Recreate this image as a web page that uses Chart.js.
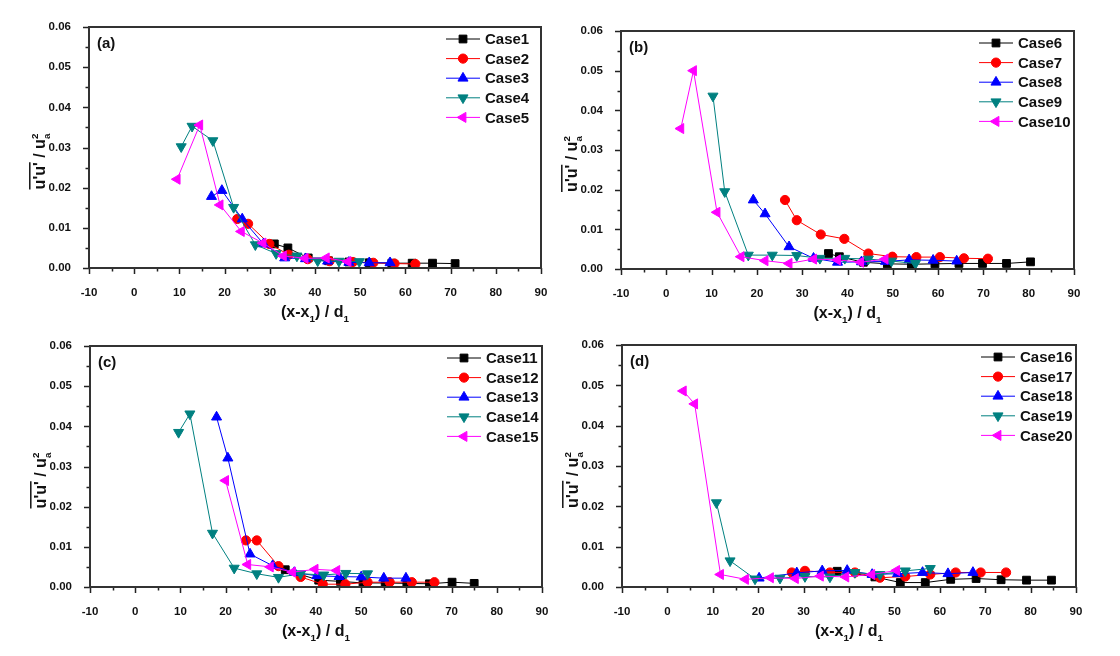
<!DOCTYPE html>
<html>
<head>
<meta charset="utf-8">
<script src="https://cdn.jsdelivr.net/npm/chart.js@4.4.1/dist/chart.umd.min.js"></script>
<style>
  body { margin: 0; background: #fff; width: 1120px; height: 656px; position: relative; overflow: hidden; }
  canvas { position: absolute; }
</style>
</head>
<body>
<canvas id="pa"></canvas>
<canvas id="pb"></canvas>
<canvas id="pc"></canvas>
<canvas id="pd"></canvas>
<script>
// 데이터
const namesA = ['Case1', 'Case2', 'Case3', 'Case4', 'Case5'];
const namesB = ['Case6', 'Case7', 'Case8', 'Case9', 'Case10'];
const namesC = ['Case11', 'Case12', 'Case13', 'Case14', 'Case15'];
const namesD = ['Case16', 'Case17', 'Case18', 'Case19', 'Case20'];

const aX = [
    [31, 34, 38.5, 43, 47.5, 52, 57, 61.5, 66, 71],
    [22.8, 25.2, 29.9, 34.2, 38.4, 43.2, 48.4, 52.9, 57.6, 62.2],
    [17.1, 19.4, 23.9, 28.6, 33.3, 37.9, 42.8, 47.5, 52.0, 56.6],
    [10.4, 12.8, 17.4, 22.0, 26.8, 31.4, 36.0, 40.6, 45.3, 49.8],
    [9.5, 14.5, 19.0, 23.7, 28.5, 33.0, 37.8, 42.5, 47.3],
];
const aY = [
    [0.006, 0.005, 0.0025, 0.0018, 0.0015, 0.0013, 0.0012, 0.0012, 0.0012, 0.0011],
    [0.0122, 0.011, 0.006, 0.0033, 0.0022, 0.0017, 0.0015, 0.0013, 0.0011, 0.0010],
    [0.0178, 0.0193, 0.0122, 0.006, 0.0025, 0.0023, 0.0017, 0.0014, 0.0013, 0.0013],
    [0.0302, 0.0353, 0.0317, 0.0151, 0.0058, 0.0036, 0.003, 0.0018, 0.0017, 0.0016],
    [0.0221, 0.0356, 0.0157, 0.0091, 0.0062, 0.003, 0.0024, 0.0025, 0.0016],
];

const bX = [
    [35.8, 38.2, 43.5, 48.8, 54.1, 59.3, 64.6, 69.8, 75.1, 80.4],
    [26.2, 28.8, 34.1, 39.3, 44.6, 49.9, 55.2, 60.4, 65.7, 71.0],
    [19.2, 21.8, 27.1, 32.5, 37.8, 43.1, 48.4, 53.6, 58.9, 64.1],
    [10.3, 12.9, 18.1, 23.4, 28.8, 33.9, 39.4, 44.6, 49.7, 55.0],
    [3.2, 6.0, 11.2, 16.5, 21.8, 27.1, 32.5, 37.8, 42.9, 48.3],
];
const bY = [
    [0.0039, 0.0031, 0.0017, 0.0013, 0.0012, 0.0013, 0.0014, 0.0014, 0.0014, 0.0018],
    [0.0174, 0.0123, 0.0087, 0.0076, 0.0039, 0.0031, 0.0030, 0.0030, 0.0027, 0.0026],
    [0.0174, 0.0139, 0.0056, 0.0027, 0.0017, 0.0018, 0.0019, 0.0023, 0.0022, 0.0020],
    [0.0436, 0.0195, 0.0035, 0.0035, 0.0034, 0.0027, 0.0027, 0.0025, 0.0020, 0.0014],
    [0.0354, 0.0500, 0.0143, 0.0031, 0.0021, 0.0014, 0.0025, 0.0023, 0.0017, 0.0025],
];

const cX = [
    [33.2, 40.6, 45.4, 50.4, 55.3, 60.1, 65.1, 70.1, 75.0],
    [24.5, 26.9, 31.7, 36.6, 41.5, 46.5, 51.4, 56.3, 61.2, 66.2],
    [18.0, 20.5, 25.4, 30.4, 35.2, 40.2, 45.1, 50.0, 55.0, 59.9],
    [9.6, 12.1, 17.1, 21.9, 26.9, 31.7, 36.6, 41.7, 46.6, 51.4],
    [20.0, 24.9, 29.9, 34.8, 39.8, 44.6],
];
const cY = [
    [0.0043, 0.0017, 0.0014, 0.001, 0.001, 0.0009, 0.0008, 0.0012, 0.0009],
    [0.0116, 0.0116, 0.0052, 0.0025, 0.0007, 0.0007, 0.0012, 0.0012, 0.0012, 0.0012],
    [0.0423, 0.0321, 0.0082, 0.0053, 0.0036, 0.0028, 0.0026, 0.0025, 0.0022, 0.0022],
    [0.0385, 0.0431, 0.0134, 0.0047, 0.0033, 0.0024, 0.0033, 0.003, 0.0034, 0.0033],
    [0.0265, 0.0056, 0.005, 0.0037, 0.0044, 0.0041],
];

const dX = [
    [37.4, 45.7, 51.3, 56.8, 62.4, 68.0, 73.5, 79.1, 84.6],
    [27.4, 30.3, 35.8, 41.3, 46.8, 52.4, 57.9, 63.5, 69.0, 74.6],
    [20.2, 28.5, 34.1, 39.6, 45.1, 50.7, 56.2, 61.8, 67.3],
    [10.8, 13.8, 19.3, 24.8, 30.3, 35.8, 41.3, 46.8, 52.4, 57.9],
    [3.5, 6.0, 11.7, 17.2, 22.7, 28.2, 33.7, 39.3, 45.0, 50.5],
];
const dY = [
    [0.0039, 0.0025, 0.0011, 0.0011, 0.0019, 0.0021, 0.0018, 0.0017, 0.0017],
    [0.0036, 0.004, 0.0036, 0.0036, 0.0023, 0.0026, 0.0031, 0.0036, 0.0036, 0.0036],
    [0.0022, 0.0035, 0.004, 0.0041, 0.0031, 0.0033, 0.0036, 0.0033, 0.0036],
    [0.0209, 0.0065, 0.002, 0.0022, 0.0026, 0.0025, 0.0036, 0.0031, 0.004, 0.0046],
    [0.0486, 0.0454, 0.0031, 0.0019, 0.0023, 0.0021, 0.0027, 0.0025, 0.0031, 0.0041],
];

const xTicks = [-10, -5, 0, 5, 10, 15, 20, 25, 30, 35, 40, 45, 50, 55, 60, 65, 70, 75, 80, 85, 90];
const yTicks = [0, 0.005, 0.01, 0.015, 0.02, 0.025, 0.03, 0.035, 0.04, 0.045, 0.05, 0.055, 0.06];

// 스타일
const colors = ['#000000', '#ff0000', '#0000ff', '#008080', '#ff00ff'];
const styles = ['rect', 'circle', 'triangle', 'triangle', 'triangle'];
const rotations = [0, 0, 0, 180, 270];
const radii = [5.5, 4.6, 5.8, 5.8, 5.8];
const FONT = "'Liberation Sans', Arial, sans-serif";

// 패널 위치 (캔버스, 플롯 영역)
const panels = [
    { id: 'pa', tag: '(a)', names: namesA, xs: aX, ys: aY, cv: { x: 0, y: 0, w: 560, h: 325 }, area: { l: 89, t: 27, r: 541, b: 268 } },
    { id: 'pb', tag: '(b)', names: namesB, xs: bX, ys: bY, cv: { x: 560, y: 0, w: 560, h: 325 }, area: { l: 621, t: 31, r: 1074, b: 269 } },
    { id: 'pc', tag: '(c)', names: namesC, xs: cX, ys: cY, cv: { x: 0, y: 325, w: 560, h: 331 }, area: { l: 90, t: 346, r: 542, b: 587 } },
    { id: 'pd', tag: '(d)', names: namesD, xs: dX, ys: dY, cv: { x: 560, y: 325, w: 560, h: 331 }, area: { l: 622, t: 345, r: 1076, b: 587 } },
];

// 텍스트 조각 그리기 (아래첨자/위첨자)
function drawPieces(ctx, pieces, size) {
    let total = 0;
    pieces.forEach(p => {
        ctx.font = `bold ${p.small ? size * 0.62 : size}px ${FONT}`;
        p.w = ctx.measureText(p.t).width;
        if (!p.stack) total += p.w;
    });
    let x = -total / 2;
    let lastX = x;
    pieces.forEach(p => {
        ctx.font = `bold ${p.small ? size * 0.62 : size}px ${FONT}`;
        const px = p.stack ? lastX : x;
        let dy = 0;
        if (p.sub) dy = size * 0.3;
        if (p.sup) dy = -size * 0.45;
        ctx.fillText(p.t, px, dy);
        if (p.over) {
            ctx.lineWidth = 1.5;
            ctx.beginPath();
            ctx.moveTo(px, -size * 0.95);
            ctx.lineTo(px + p.w, -size * 0.95);
            ctx.stroke();
        }
        lastX = px;
        if (!p.stack) x += p.w;
    });
}

const decoPlugin = {
    id: 'deco',
    afterDraw(chart, args, opts) {
        const { ctx, chartArea: a } = chart;
        const sx = chart.scales.x, sy = chart.scales.y;
        ctx.save();
        // 눈금
        ctx.strokeStyle = '#222';
        ctx.lineWidth = 1.5;
        ctx.beginPath();
        xTicks.forEach(v => {
            const px = Math.round(sx.getPixelForValue(v)) + 0.5;
            const len = v % 10 === 0 ? 6 : 3.5;
            ctx.moveTo(px, a.bottom);
            ctx.lineTo(px, a.bottom + len);
        });
        yTicks.forEach((v, k) => {
            const py = Math.round(sy.getPixelForValue(v)) + 0.5;
            const len = k % 2 === 0 ? 6 : 3.5;
            ctx.moveTo(a.left, py);
            ctx.lineTo(a.left - len, py);
        });
        ctx.stroke();
        // 테두리
        ctx.strokeStyle = '#333';
        ctx.lineWidth = 2;
        ctx.strokeRect(a.left, a.top, a.right - a.left, a.bottom - a.top);

        ctx.fillStyle = '#111';
        ctx.strokeStyle = '#111';
        ctx.textBaseline = 'alphabetic';
        ctx.textAlign = 'left';

        // x축 제목
        ctx.save();
        ctx.translate((a.left + a.right) / 2, a.bottom + 49);
        drawPieces(ctx, [
            { t: '(x-x' }, { t: '1', small: true, sub: true }, { t: ') / d' }, { t: '1', small: true, sub: true },
        ], 16);
        ctx.restore();

        // y축 제목
        ctx.save();
        ctx.translate(a.left - 44, (a.top + a.bottom) / 2 + 14);
        ctx.rotate(-Math.PI / 2);
        drawPieces(ctx, [
            { t: "u'u'", over: true }, { t: ' / u' }, { t: 'a', small: true, sub: true }, { t: '2', small: true, sup: true, stack: true },
        ], 16);
        ctx.restore();

        // 패널 라벨
        ctx.font = `bold 15px ${FONT}`;
        ctx.textBaseline = 'middle';
        ctx.fillText(opts.tag, a.left + 8, a.top + 17);

        // 범례
        ctx.font = `bold 15px ${FONT}`;
        chart.data.datasets.forEach((ds, i) => {
            const y = a.top + 12 + i * 19.6;
            ctx.strokeStyle = ds.borderColor;
            ctx.lineWidth = 1;
            ctx.beginPath();
            ctx.moveTo(a.right - 95, y);
            ctx.lineTo(a.right - 61, y);
            ctx.stroke();
            ctx.fillStyle = ds.backgroundColor;
            Chart.helpers.drawPoint(ctx, {
                pointStyle: ds.pointStyle, rotation: ds.rotation, radius: ds.pointRadius, borderWidth: 1,
            }, a.right - 78, y);
            ctx.fillStyle = '#111';
            ctx.fillText(ds.label, a.right - 56, y + 1);
        });
        ctx.restore();
    },
};

panels.forEach(p => {
    const canvas = document.getElementById(p.id);
    canvas.width = p.cv.w;
    canvas.height = p.cv.h;
    canvas.style.left = p.cv.x + 'px';
    canvas.style.top = p.cv.y + 'px';
    canvas.style.width = p.cv.w + 'px';
    canvas.style.height = p.cv.h + 'px';

    const datasets = p.names.map((name, i) => ({
        label: name,
        data: p.xs[i].map((x, j) => ({ x: x, y: p.ys[i][j] })),
        showLine: true,
        borderColor: colors[i],
        backgroundColor: colors[i],
        borderWidth: 1,
        pointStyle: styles[i],
        rotation: rotations[i],
        pointRadius: radii[i],
        pointBorderWidth: 1,
        order: 5 - i,
    }));

    new Chart(canvas.getContext('2d'), {
        type: 'scatter',
        data: { datasets: datasets },
        options: {
            responsive: false,
            animation: false,
            devicePixelRatio: 1,
            layout: {
                padding: { left: 0, top: p.area.t - p.cv.y, right: p.cv.x + p.cv.w - p.area.r, bottom: 0 },
            },
            scales: {
                x: {
                    min: -10, max: 90,
                    grid: { display: false },
                    border: { display: false },
                    ticks: {
                        stepSize: 10, padding: 10, color: '#111',
                        font: { family: FONT, size: 11.5, weight: 'bold' },
                        maxRotation: 0,
                    },
                    afterFit: (s) => { s.height = p.cv.y + p.cv.h - p.area.b; },
                },
                y: {
                    min: 0, max: 0.06,
                    grid: { display: false },
                    border: { display: false },
                    ticks: {
                        stepSize: 0.01, padding: 10, color: '#111',
                        font: { family: FONT, size: 11.5, weight: 'bold' },
                        callback: (v) => v.toFixed(2),
                    },
                    afterFit: (s) => { s.width = p.area.l - p.cv.x; },
                },
            },
            plugins: {
                legend: { display: false },
                tooltip: { enabled: false },
                deco: { tag: p.tag },
            },
        },
        plugins: [decoPlugin],
    });
});
</script>
</body>
</html>
